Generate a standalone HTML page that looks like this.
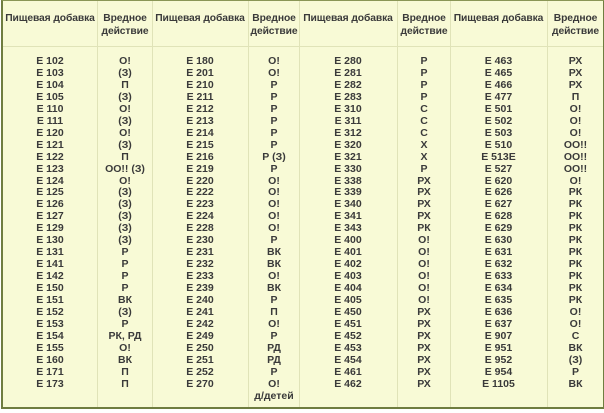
<!DOCTYPE html><html><head><meta charset="utf-8"><style>
body{margin:0;width:604px;height:413px;background:#fff;overflow:hidden;font-family:"Liberation Sans",Arial,sans-serif}
#t{position:absolute;left:1px;top:0;width:600px;height:406px;background:#f8fad6;border:2px solid #6f7d40;border-top:1px solid #8a9656}
.v{position:absolute;top:0;width:1px;height:406px;background:#e0e3b8}
.h{position:absolute;left:0;top:45px;width:600px;height:1px;background:#e0e3b8}
.c{position:absolute;top:55px;text-align:center;font-weight:bold;font-size:10.5px;line-height:11.95px;color:#3a3a3a;white-space:nowrap}
.hd{position:absolute;top:11px;text-align:center;font-weight:bold;font-size:10.3px;line-height:13px;color:#3a3a3a;white-space:nowrap;letter-spacing:-0.1px}
</style></head><body><div id="t">
<div class="v" style="left:94px"></div><div class="v" style="left:149px"></div><div class="v" style="left:245px"></div><div class="v" style="left:296px"></div><div class="v" style="left:394px"></div><div class="v" style="left:447px"></div><div class="v" style="left:544px"></div>
<div class="h"></div>
<div class="hd" style="left:0;width:94px">Пищевая добавка</div>
<div class="hd" style="left:94px;width:56px">Вредное<br>действие</div>
<div class="hd" style="left:149px;width:96px">Пищевая добавка</div>
<div class="hd" style="left:245px;width:52px">Вредное<br>действие</div>
<div class="hd" style="left:296px;width:98px">Пищевая добавка</div>
<div class="hd" style="left:394px;width:54px">Вредное<br>действие</div>
<div class="hd" style="left:447px;width:97px">Пищевая добавка</div>
<div class="hd" style="left:544px;width:57px">Вредное<br>действие</div>
<div class="c" style="left:0;width:94px">E 102<br>E 103<br>E 104<br>E 105<br>E 110<br>E 111<br>E 120<br>E 121<br>E 122<br>E 123<br>E 124<br>E 125<br>E 126<br>E 127<br>E 129<br>E 130<br>E 131<br>E 141<br>E 142<br>E 150<br>E 151<br>E 152<br>E 153<br>E 154<br>E 155<br>E 160<br>E 171<br>E 173</div>
<div class="c" style="left:94px;width:56px">О!<br>(З)<br>П<br>(З)<br>О!<br>(З)<br>О!<br>(З)<br>П<br>ОО!! (З)<br>О!<br>(З)<br>(З)<br>(З)<br>(З)<br>(З)<br>Р<br>Р<br>Р<br>Р<br>ВК<br>(З)<br>Р<br>РК, РД<br>О!<br>ВК<br>П<br>П</div>
<div class="c" style="left:149px;width:96px">E 180<br>E 201<br>E 210<br>E 211<br>E 212<br>E 213<br>E 214<br>E 215<br>E 216<br>E 219<br>E 220<br>E 222<br>E 223<br>E 224<br>E 228<br>E 230<br>E 231<br>E 232<br>E 233<br>E 239<br>E 240<br>E 241<br>E 242<br>E 249<br>E 250<br>E 251<br>E 252<br>E 270</div>
<div class="c" style="left:245px;width:52px">О!<br>О!<br>Р<br>Р<br>Р<br>Р<br>Р<br>Р<br>Р (З)<br>Р<br>О!<br>О!<br>О!<br>О!<br>О!<br>Р<br>ВК<br>ВК<br>О!<br>ВК<br>Р<br>П<br>О!<br>Р<br>РД<br>РД<br>Р<br>О!<br>д/детей</div>
<div class="c" style="left:296px;width:98px">E 280<br>E 281<br>E 282<br>E 283<br>E 310<br>E 311<br>E 312<br>E 320<br>E 321<br>E 330<br>E 338<br>E 339<br>E 340<br>E 341<br>E 343<br>E 400<br>E 401<br>E 402<br>E 403<br>E 404<br>E 405<br>E 450<br>E 451<br>E 452<br>E 453<br>E 454<br>E 461<br>E 462</div>
<div class="c" style="left:394px;width:54px">Р<br>Р<br>Р<br>Р<br>С<br>С<br>С<br>Х<br>Х<br>Р<br>РХ<br>РХ<br>РХ<br>РХ<br>РК<br>О!<br>О!<br>О!<br>О!<br>О!<br>О!<br>РХ<br>РХ<br>РХ<br>РХ<br>РХ<br>РХ<br>РХ</div>
<div class="c" style="left:447px;width:97px">E 463<br>E 465<br>E 466<br>E 477<br>E 501<br>E 502<br>E 503<br>E 510<br>E 513Е<br>E 527<br>E 620<br>E 626<br>E 627<br>E 628<br>E 629<br>E 630<br>E 631<br>E 632<br>E 633<br>E 634<br>E 635<br>E 636<br>E 637<br>E 907<br>E 951<br>E 952<br>E 954<br>E 1105</div>
<div class="c" style="left:544px;width:57px">РХ<br>РХ<br>РХ<br>П<br>О!<br>О!<br>О!<br>ОО!!<br>ОО!!<br>ОО!!<br>О!<br>РК<br>РК<br>РК<br>РК<br>РК<br>РК<br>РК<br>РК<br>РК<br>РК<br>О!<br>О!<br>С<br>ВК<br>(З)<br>Р<br>ВК</div>
</div></body></html>
